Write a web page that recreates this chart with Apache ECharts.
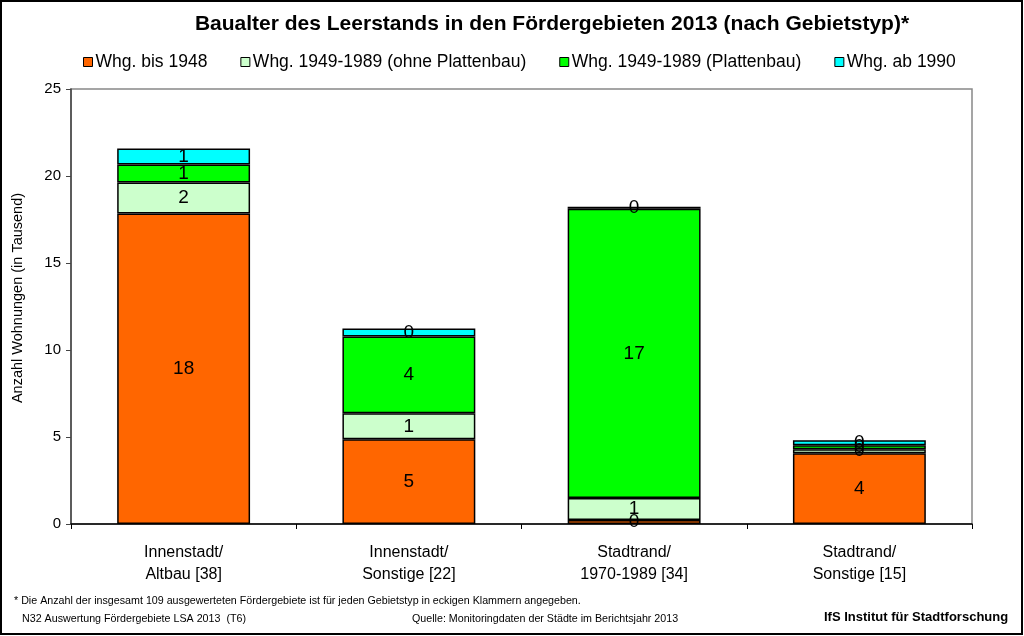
<!DOCTYPE html>
<html><head><meta charset="utf-8">
<script src="https://cdn.jsdelivr.net/npm/echarts@6/dist/echarts.min.js"></script>
<style>html,body{margin:0;padding:0;background:#fff}#c{width:1024px;height:636px}</style>
</head><body><div id="c"></div>
<script>
const categories = ['Innenstadt/\nAltbau [38]', 'Innenstadt/\nSonstige [22]', 'Stadtrand/\n1970-1989 [34]', 'Stadtrand/\nSonstige [15]'];
const seriesNames = ['Whg. bis 1948', 'Whg. 1949-1989 (ohne Plattenbau)', 'Whg. 1949-1989 (Plattenbau)', 'Whg. ab 1990'];
const bis1948 = [17.85, 4.87, 0.23, 4.07];
const ohnePlatten = [1.78, 1.49, 1.26, 0.23];
const platten = [1.03, 4.42, 16.63, 0.23];
const ab1990 = [0.92, 0.46, 0.11, 0.29];
const yTicks = [0, 5, 10, 15, 20, 25];
const colors = ['#FF6600', '#CCFFCC', '#00FF00', '#00FFFF'];
const values = [bis1948, ohnePlatten, platten, ab1990];

const chart = echarts.init(document.getElementById('c'), null, {renderer: 'canvas'});
const font = 'Liberation Sans, Arial, sans-serif';
const narrow = '"Liberation Sans Narrow", "Arial Narrow", "Liberation Sans", Arial, sans-serif';
chart.setOption({
  animation: false,
  backgroundColor: '#fff',
  title: {
    text: 'Baualter des Leerstands in den Fördergebieten 2013 (nach Gebietstyp)*',
    left: 547, textAlign: 'center', top: 9,
    textStyle: {fontFamily: font, fontSize: 21, fontWeight: 'bold', color: '#000'}
  },
  legend: {
    top: 53, left: 83, padding: 0, itemGap: 33, itemWidth: 9, itemHeight: 9,
    icon: 'rect',
    data: seriesNames,
    textStyle: {fontFamily: font, fontSize: 17.5, color: '#000', padding: [0, 0, 0, -2]},
    itemStyle: {borderColor: '#000', borderWidth: 1}
  },
  grid: {left: 71, right: 52, top: 89, bottom: 112, show: true, borderColor: '#888', borderWidth: 1.5},
  xAxis: {
    type: 'category', data: categories,
    axisLine: {lineStyle: {color: '#000', width: 1.5}},
    axisTick: {show: true, length: 5, lineStyle: {color: '#000'}},
    axisLabel: {fontFamily: font, fontSize: 16, color: '#000', margin: 18, lineHeight: 22}
  },
  yAxis: {
    type: 'value', min: 0, max: 25, interval: 5,
    axisLine: {show: true, lineStyle: {color: '#444', width: 1.5}},
    axisTick: {show: true, length: 5, lineStyle: {color: '#444'}},
    splitLine: {show: false},
    axisLabel: {fontFamily: font, fontSize: 15, color: '#000', margin: 10,
      formatter: v => yTicks.includes(v) ? String(v) : ''}
  },
  series: values.map((arr, i) => ({
    name: seriesNames[i], type: 'bar', stack: 'a', data: arr, barWidth: '59%',
    itemStyle: {color: colors[i], borderColor: '#000', borderWidth: 1.5},
    label: {show: true, position: 'inside', fontFamily: font, fontSize: 19, color: '#000',
      formatter: p => String(Math.round(p.value))}
  })),
  graphic: [
    {type: 'rect', shape: {x: 1, y: 1, width: 1021, height: 633}, style: {fill: 'none', stroke: '#000', lineWidth: 2}, silent: true},
    {type: 'text', x: 18, y: 298, rotation: Math.PI / 2, style: {text: 'Anzahl Wohnungen (in Tausend)', font: '14.5px ' + font, fill: '#000', align: 'center', verticalAlign: 'middle'}},
    {type: 'text', left: 14, top: 596, style: {text: '* Die Anzahl der insgesamt 109 ausgewerteten Fördergebiete ist für jeden Gebietstyp in eckigen Klammern angegeben.', font: '10.7px ' + narrow, fill: '#000'}},
    {type: 'text', left: 22, top: 614, style: {text: 'N32 Auswertung Fördergebiete LSA 2013  (T6)', font: '10.7px ' + narrow, fill: '#000'}},
    {type: 'text', left: 412, top: 614, style: {text: 'Quelle: Monitoringdaten der Städte im Berichtsjahr 2013', font: '10.7px ' + narrow, fill: '#000'}},
    {type: 'text', left: 824, top: 611, style: {text: 'IfS Institut für Stadtforschung', font: 'bold 13px ' + narrow, fill: '#000'}}
  ]
});
</script></body></html>
